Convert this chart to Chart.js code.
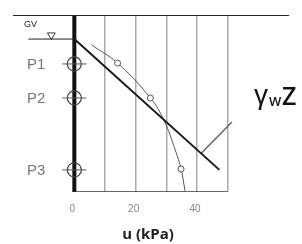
<!DOCTYPE html>
<html>
<head>
<meta charset="utf-8">
<script src="https://cdn.jsdelivr.net/npm/chart.js@4"></script>
<style>
  html, body { margin: 0; padding: 0; background: #fff; }
  #wrap { width: 302px; height: 244px; }
</style>
</head>
<body>
<div id="wrap"><canvas id="chart" width="302" height="244"></canvas></div>
<script>
// pore pressure u (kPa) vs depth z (m)
const uTicks = [0, 20, 40];
const gridU = [10, 20, 30, 40, 50];
const piezoNames = ["P1", "P2", "P3"];
const piezoDepth = [1.77, 3.0, 5.6];
const measuredU = [14.1, 24.8, 34.8];
const curveU = [5.6, 14.1, 24.8, 29.2, 32.9, 34.8, 36.1];
const curveZ = [1.08, 1.74, 3.0, 3.8, 4.88, 5.57, 6.36];
const hydroU = [0, 47.3];
const hydroZ = [0.87, 5.6];
const leaderU = [41.4, 51.4];
const leaderZ = [5.0, 3.87];
const gvDepth = 0.87;
const uMin = -20, uMax = 70, zMax = 6.4;

const pts = (xs, ys) => xs.map((x, i) => ({ x: x, y: ys[i] }));

const textPlugin = {
  id: "sketchText",
  afterDraw(chart) {
    const { ctx, scales } = chart;
    const sx = scales.x, sy = scales.y;
    ctx.save();
    // tick labels
    ctx.fillStyle = "#888";
    ctx.font = "10px 'Liberation Sans', Arial, sans-serif";
    ctx.textAlign = "center";
    ctx.textBaseline = "middle";
    uTicks.forEach((t) => ctx.fillText(t, sx.getPixelForValue(t) - 2, 209));
    // axis title
    ctx.fillStyle = "#222";
    ctx.font = "bold 15px 'Open Sans', sans-serif";
    ctx.fillText("u (kPa)", 148, 235);
    // piezometer labels
    ctx.fillStyle = "#777";
    ctx.font = "15px 'Liberation Sans', Arial, sans-serif";
    ctx.textAlign = "left";
    piezoNames.forEach((n, i) => ctx.fillText(n, 27, sy.getPixelForValue(piezoDepth[i]) + 1));
    // GV
    ctx.fillStyle = "#222";
    ctx.font = "9px 'Liberation Sans', Arial, sans-serif";
    ctx.fillText("GV", 24, 25);
    // gamma_w z
    ctx.fillStyle = "#111";
    ctx.textBaseline = "alphabetic";
    ctx.font = "28px 'Liberation Sans', sans-serif";
    ctx.fillText("\u03b3", 254, 104);
    ctx.font = "600 13px 'Open Sans', sans-serif";
    ctx.fillText("W", 269, 106);
    ctx.font = "600 25px 'Open Sans', sans-serif";
    ctx.fillText("Z", 282, 105);
    ctx.restore();
  },
};

new Chart(document.getElementById("chart"), {
  type: "scatter",
  data: {
    datasets: [
      {
        // ground surface
        data: pts([uMin, uMax], [0, 0]),
        showLine: true, borderColor: "#222", borderWidth: 2, pointRadius: 0,
      },
      {
        // bottom axis
        data: pts([0, 50], [zMax, zMax]),
        showLine: true, borderColor: "#333", borderWidth: 1.5, pointRadius: 0,
      },
      {
        // groundwater level
        data: pts([-15, 0], [gvDepth, gvDepth]),
        showLine: true, borderColor: "#222", borderWidth: 1, pointRadius: 0,
      },
      {
        // GV triangle
        data: [{ x: -7.5, y: gvDepth - 0.14 }],
        pointStyle: "triangle", rotation: 180, pointRadius: 4.5,
        borderColor: "#333", borderWidth: 1, backgroundColor: "#fff",
      },
      {
        // hydrostatic gamma_w z
        data: pts(hydroU, hydroZ),
        showLine: true, borderColor: "#1a1a1a", borderWidth: 2, pointRadius: 0,
      },
      {
        // leader line to label
        data: pts(leaderU, leaderZ),
        showLine: true, borderColor: "#666", borderWidth: 1.5, pointRadius: 0,
      },
      {
        // measured pore pressure curve
        data: pts(curveU, curveZ),
        showLine: true, tension: 0.4, borderColor: "#555", borderWidth: 1,
        pointRadius: (c) => (measuredU.includes(curveU[c.dataIndex]) ? 3 : 0),
        pointBorderColor: "#555", pointBackgroundColor: "#fff", pointBorderWidth: 1,
      },
      {
        // piezometer cross bars
        data: pts([0, 0, 0], piezoDepth),
        pointStyle: "line", pointRadius: 12, borderColor: "#555", borderWidth: 1,
      },
      {
        // piezometer circles
        data: pts([0, 0, 0], piezoDepth),
        pointStyle: "circle", pointRadius: 7, borderColor: "#444", borderWidth: 1.2,
        backgroundColor: "rgba(0,0,0,0)",
      },
      {
        // pile / wall
        data: pts([0, 0], [0, zMax]),
        showLine: true, borderColor: "#111", borderWidth: 4, pointRadius: 0,
      },
    ],
  },
  options: {
    responsive: false,
    animation: false,
    layout: { padding: { left: 8, right: 7, top: 15, bottom: 52 } },
    plugins: { legend: { display: false }, tooltip: { enabled: false } },
    scales: {
      x: {
        type: "linear", min: uMin, max: uMax,
        ticks: { display: false, stepSize: 10 },
        border: { display: false },
        grid: {
          drawTicks: false,
          lineWidth: 1.5,
          color: (c) => (c.tick && gridU.includes(c.tick.value) ? "#aaaaaa" : "rgba(0,0,0,0)"),
        },
      },
      y: {
        type: "linear", min: 0, max: zMax, reverse: true, display: false,
      },
    },
  },
  plugins: [textPlugin],
});
</script>
</body>
</html>
